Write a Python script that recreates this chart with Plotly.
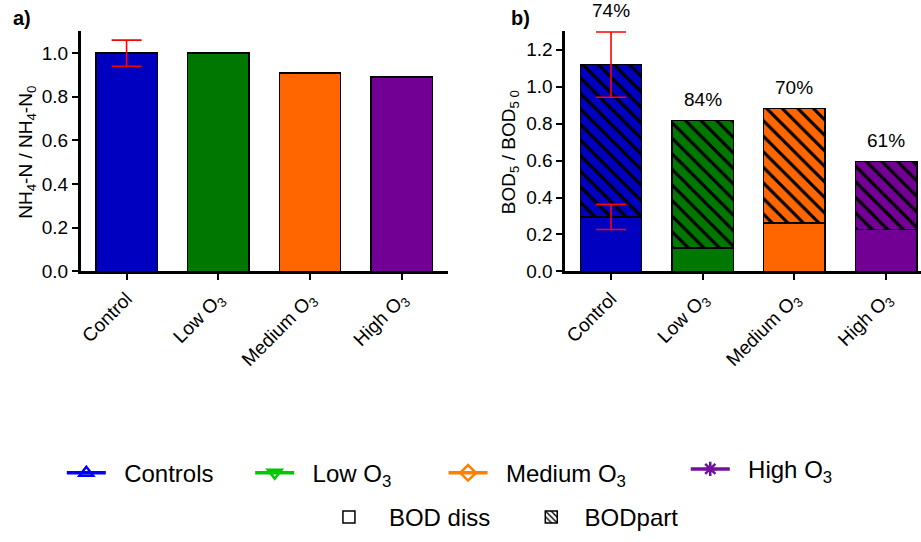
import plotly.graph_objects as go

# ---------------- data ----------------
categories = ["Control", "Low O<sub>3</sub>", "Medium O<sub>3</sub>", "High O<sub>3</sub>"]
nh4_ratio = [1.00, 1.00, 0.91, 0.89]
nh4_err = [0.06, None, None, None]

bod_diss = [0.295, 0.126, 0.262, 0.227]
bod_total = [1.12, 0.816, 0.881, 0.596]
bod_diss_err = [0.068, None, None, None]
bod_total_err = [0.177, None, None, None]
part_pct = ["74%", "84%", "70%", "61%"]

bar_colors = ["#0000C0", "#007800", "#FF6600", "#730094"]

legend_names = ["Controls", "Low O<sub>3</sub>", "Medium O<sub>3</sub>", "High O<sub>3</sub>"]
legend_colors = ["#0000FF", "#00C800", "#FF8000", "#7010A0"]
legend_symbols = ["triangle-up-open", "triangle-down-open", "diamond-open", "asterisk-open"]
bod_legend_names = ["BOD diss", "BODpart"]

bod_part = [t - d for t, d in zip(bod_total, bod_diss)]

# ---------------- figure ----------------
W, H = 921, 542
FONT = "Liberation Sans, Arial, sans-serif"
NB = "\u00a0"


def px(x):
    return x / W


def py(y):
    return 1 - y / H


fig = go.Figure()

# panel a
fig.add_trace(go.Bar(x=categories, y=nh4_ratio, width=0.67,
                     marker=dict(color=bar_colors, line=dict(color="black", width=1.5)),
                     xaxis="x", yaxis="y", showlegend=False, hoverinfo="skip"))


def add_err(xs, ys, errs, xa, ya):
    for i, e in enumerate(errs):
        if e is not None:
            fig.add_trace(go.Scatter(x=[xs[i]], y=[ys[i]], mode="markers",
                                     marker=dict(opacity=0, size=2),
                                     error_y=dict(type="data", array=[e], color="red",
                                                  thickness=1.6, width=15),
                                     xaxis=xa, yaxis=ya, showlegend=False, hoverinfo="skip"))


add_err(categories, nh4_ratio, nh4_err, "x", "y")

# panel b : dissolved part (solid)
fig.add_trace(go.Bar(x=categories, y=bod_diss, width=0.67,
                     marker=dict(color=bar_colors, line=dict(color="black", width=1.5)),
                     xaxis="x2", yaxis="y2", showlegend=False, hoverinfo="skip"))
# panel b : particulate part (hatched), one trace per category so the hatch stays black
for i, cat in enumerate(categories):
    fig.add_trace(go.Bar(x=[cat], y=[bod_part[i]], width=0.67,
                         marker=dict(color=bar_colors[i], line=dict(color="black", width=1.5),
                                     pattern=dict(shape="\\", fillmode="overlay",
                                                  fgcolor="black", bgcolor=bar_colors[i],
                                                  fgopacity=1, size=11, solidity=0.28)),
                         xaxis="x2", yaxis="y2", showlegend=False, hoverinfo="skip"))
add_err(categories, bod_diss, bod_diss_err, "x2", "y2")
add_err(categories, bod_total, bod_total_err, "x2", "y2")

# percentage labels
for i, t in enumerate(part_pct):
    top = bod_total[i] + (bod_total_err[i] or 0)
    fig.add_annotation(x=i, y=top, text=t, xref="x2", yref="y2", showarrow=False,
                       yshift=21, font=dict(size=19, color="black", family=FONT))

# legend entries (dummy traces)
legend_x = [59, 248, 442, 685]
legend_y = [483, 483, 483, 479]
for k, (nm, col, sym) in enumerate(zip(legend_names, legend_colors, legend_symbols)):
    lid = "legend" if k == 0 else f"legend{k + 1}"
    fig.add_trace(go.Scatter(x=[None], y=[None], mode="lines+markers", name=NB * 2 + nm,
                             line=dict(color=col, width=3.5),
                             marker=dict(symbol=sym, size=12, color=col,
                                         line=dict(color=col, width=2.5)),
                             xaxis="x2", yaxis="y2", legend=lid))

fig.add_trace(go.Bar(x=[None], y=[None], name=NB * 3 + bod_legend_names[0],
                     marker=dict(color="white", line=dict(color="black", width=1.5)),
                     xaxis="x2", yaxis="y2", legend="legend5"))
fig.add_trace(go.Bar(x=[None], y=[None], name=NB * 2 + bod_legend_names[1],
                     marker=dict(color="white", line=dict(color="black", width=1.5),
                                 pattern=dict(shape="\\", fillmode="overlay", fgcolor="black",
                                              bgcolor="white", fgopacity=1,
                                              size=5, solidity=0.35)),
                     xaxis="x2", yaxis="y2", legend="legend6"))

axis_common = dict(showline=True, linecolor="black", linewidth=2.5, ticks="outside",
                   ticklen=6, tickwidth=2, tickcolor="black", showgrid=False, zeroline=False,
                   tickfont=dict(size=19, color="black", family=FONT))

ydom = [py(277), py(32)]

leg_common = dict(xanchor="left", yanchor="middle", bgcolor="rgba(0,0,0,0)",
                  font=dict(size=24, color="black", family=FONT), borderwidth=0)

layout_legends = {}
for k in range(4):
    lid = "legend" if k == 0 else f"legend{k + 1}"
    layout_legends[lid] = dict(x=px(legend_x[k]), y=py(legend_y[k]), itemwidth=39,
                               **leg_common)
layout_legends["legend5"] = dict(x=px(327), y=py(528), **leg_common)
layout_legends["legend6"] = dict(x=px(530), y=py(528), **leg_common)

fig.update_layout(
    width=W, height=H,
    margin=dict(l=0, r=0, t=0, b=0),
    paper_bgcolor="white", plot_bgcolor="white",
    font=dict(family=FONT, color="black", size=19),
    barmode="stack",
    hovermode=False,
    xaxis=dict(domain=[px(78), px(446)], range=[-0.5, 3.5], anchor="y", tickangle=-45,
               **axis_common),
    yaxis=dict(domain=ydom, range=[0, 1.1], dtick=0.2, tickformat=".1f", anchor="x",
               **axis_common),
    xaxis2=dict(domain=[px(564), 1.0], range=[-0.5, 3.38], anchor="y2", tickangle=-45,
                **axis_common),
    yaxis2=dict(domain=ydom, range=[0, 1.3], dtick=0.2, tickformat=".1f", anchor="x2",
                **axis_common),
    **layout_legends,
)

# panel letters and axis titles
fig.add_annotation(x=px(8), y=py(18), xref="paper", yref="paper", text="<b>a)</b>",
                   showarrow=False, xanchor="left", yanchor="middle",
                   font=dict(size=20, color="black", family=FONT))
fig.add_annotation(x=px(508), y=py(18), xref="paper", yref="paper", text="<b>b)</b>",
                   showarrow=False, xanchor="left", yanchor="middle",
                   font=dict(size=20, color="black", family=FONT))
fig.add_annotation(x=px(24), y=py(155), xref="paper", yref="paper",
                   text="NH<sub>4</sub>-N / NH<sub>4</sub>-N<sub>0</sub>", textangle=-90,
                   showarrow=False, xanchor="center", yanchor="middle",
                   font=dict(size=19, color="black", family=FONT))
fig.add_annotation(x=px(509), y=py(155), xref="paper", yref="paper",
                   text="BOD<sub>5</sub> / BOD<sub>5 0</sub>", textangle=-90,
                   showarrow=False, xanchor="center", yanchor="middle",
                   font=dict(size=19, color="black", family=FONT))

fig.write_html("out.html",
               config={"displayModeBar": False},
               post_script="document.body.style.margin='0px';"
                           "document.body.style.overflow='hidden';")
